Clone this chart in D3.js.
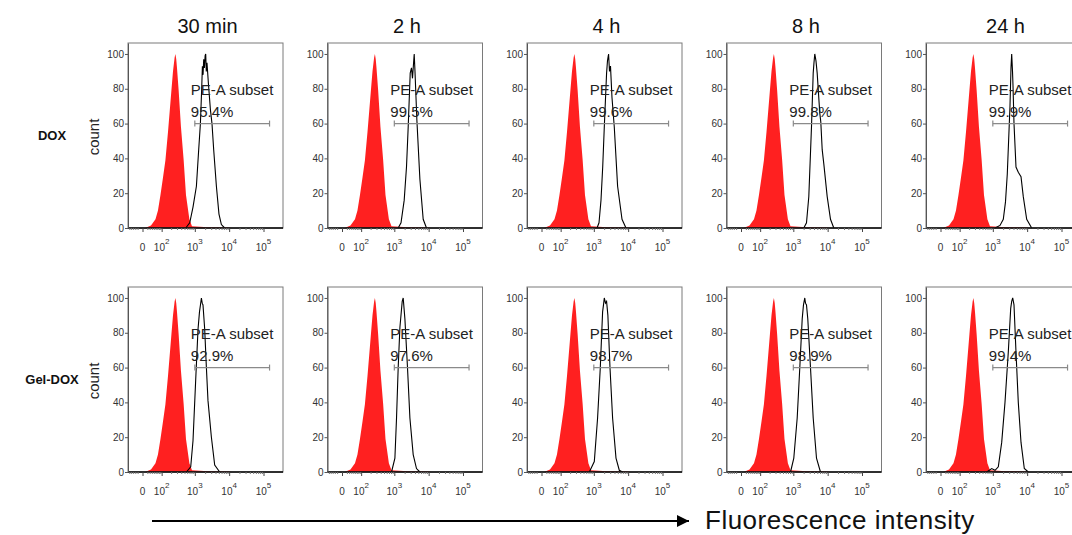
<!DOCTYPE html>
<html>
<head>
<meta charset="utf-8">
<script src="https://cdn.jsdelivr.net/npm/d3@7"></script>
<style>
  body { margin: 0; background: #fff; }
  svg { display: block; font-family: "Liberation Sans", Arial, sans-serif; }
</style>
</head>
<body>
<svg id="chart" width="1072" height="535"></svg>
<script>
// ---------------------------------------------- data ----------------------------------------------

const timepoints = ["30 min", "2 h", "4 h", "8 h", "24 h"];
const groups = ["DOX", "Gel-DOX"];
const subsetPct = [
    [95.4, 99.5, 99.6, 99.8, 99.9],
    [92.9, 97.6, 98.7, 98.9, 99.4]
];
const gateRange = [1000, 150000];   // PE-A subset gate
const gateLevel = 60;
const xTicks = [0, 100, 1000, 10000, 100000];
const xTickExp = [null, 2, 3, 4, 5];
const yTicks = [0, 20, 40, 60, 80, 100];

// untreated control (red, filled) - [intensity, % of max]
const control = [[10,0],[18,0.5],[36,1.5],[59,5],[74,10],[91,19],[111,29],[133,39],[160,55],[204,79],[228,90],
    [255,98],[269,100],[285,97],[300,92],[336,79],[393,58],[472,39],[552,19],[694,5],[827,1],[2400,0.5],[9200,0.3],[12000,0]];

// DOX
const dox30min = [[543,0],[710,3],[885,12],[1112,24],[1297,45],[1455,60],[1586,80],[1663,93],[1740,88],[1815,97],
    [1900,92],[2000,99],[2075,100],[2160,90],[2263,95],[2488,83],[2845,68],[3163,60],[3546,45],[4250,24],[5055,8],[5940,2],[7410,0]];
const dox2h = [[1297,0],[1566,3],[1941,16],[2263,35],[2537,58],[2903,89],[3163,92],[3385,86],[3795,100],[4000,90],
    [4540,62],[5560,28],[6935,5],[8650,0]];
const dox4h = [[1240,0],[1416,3],[1619,16],[1815,35],[2020,58],[2355,89],[2500,96],[2690,100],[2862,90],[3060,93],
    [3382,75],[3945,58],[4930,24],[6625,5],[8650,0]];
const dox8h = [[2020,0],[2420,3],[2825,18],[3382,58],[3795,89],[4000,95],[4220,100],[4572,96],[4955,89],[5900,66],
    [6310,61],[6935,45],[7715,37],[9700,18],[12100,5],[15100,0]];
const dox24h = [[1160,0],[1619,1.5],[2020,5],[2340,15],[2640,31],[3163,70],[3385,92],[3546,100],[3745,90],[3870,82],
    [4140,60],[4732,35],[5520,32],[6625,29.5],[7715,18],[9700,5],[13550,0]];

// Gel-DOX
const gel30min = [[569,0],[759,3],[885,18],[1061,53],[1240,82],[1368,92],[1556,100],[1642,97],[1731,96],[1941,82],
    [2173,60],[2420,41],[3040,20],[3795,4],[5300,0]];
const gel2h = [[829,0],[1040,8],[1160,31],[1297,60],[1455,83],[1698,98],[1815,100],[2034,88],[2420,60],[2845,31],
    [3546,10],[4425,2],[5560,0]];
const gel4h = [[740,0],[1033,6],[1288,31],[1545,60],[1803,92],[1914,96],[2020,100],[2188,97],[2355,98],[2570,90],
    [2958,60],[3524,31],[4425,8],[5520,1],[6890,0]];
const gel8h = [[829,0],[1033,8],[1297,31],[1545,60],[1815,88],[1977,96],[2158,100],[2263,97],[2420,96],[2640,88],
    [3163,60],[3795,31],[4732,8],[6185,0]];
const gel24h = [[664,0],[929,2],[1160,1],[1445,3],[1815,17],[2263,40],[2825,69],[3319,94],[3546,98],[3795,100],
    [4140,96],[4732,69],[5520,40],[6625,17],[8260,2],[10800,0]];

const treated = [
    [dox30min, dox2h, dox4h, dox8h, dox24h],
    [gel30min, gel2h, gel4h, gel8h, gel24h]
];

// ---------------------------------------------- layout ----------------------------------------------

const panelW = 155;
const panelH = 185;
const colStep = 199.5;
const rowStep = 244;
const left0 = 128;
const top0 = 43;

const svg = d3.select("#chart");

// biexponential-like display: asinh transform + linear scale
const W = 60;
const tr = v => Math.asinh(v / W);
const xT = d3.scaleLinear().domain([tr(0), tr(100000)]).range([14.5, 135.5]);
const x = v => xT(tr(v));
const y = d3.scaleLinear().domain([0, 106.3]).range([panelH, 0]);

// minor ticks on the log axis
const minorTicks = [];
[-1, 1].forEach(s => d3.range(1, 5).forEach(k => d3.range(2, 10).forEach(m => {
    const v = s * m * Math.pow(10, k);
    if (x(v) > 1 && x(v) < panelW - 1) minorTicks.push(v);
})));

const area = d3.area().x(d => x(d[0])).y0(y(0)).y1(d => y(d[1]));
const line = d3.line().x(d => x(d[0])).y(d => y(d[1]));

// ---------------------------------------------- panels ----------------------------------------------

groups.forEach((grp, r) => {
    timepoints.forEach((tp, c) => {
        const g = svg.append("g")
            .attr("transform", `translate(${left0 + c * colStep},${top0 + r * rowStep})`);

        // control histogram
        g.append("path").datum(control)
            .attr("d", area)
            .attr("fill", "#ff2020");

        // treated histogram
        g.append("path").datum(treated[r][c])
            .attr("d", line)
            .attr("fill", "none")
            .attr("stroke", "#000")
            .attr("stroke-width", 1.1);

        // frame
        g.append("rect")
            .attr("width", panelW).attr("height", panelH)
            .attr("fill", "none").attr("stroke", "#7a7a7a").attr("stroke-width", 1);

        g.append("line")
            .attr("x1", 0).attr("x2", panelW)
            .attr("y1", y(0)).attr("y2", y(0))
            .attr("stroke", "#000").attr("stroke-width", 1.6);

        // y axis
        const yAx = g.append("g")
            .call(d3.axisLeft(y).tickValues(yTicks).tickSize(3).tickPadding(1).tickSizeOuter(0));
        yAx.select(".domain").attr("stroke", "#555");
        yAx.selectAll("text").attr("font-size", 10).attr("fill", "#333").attr("font-family", null);
        yAx.selectAll(".tick line").attr("stroke", "#555");

        // x axis: major + minor ticks
        const xAx = g.append("g").attr("transform", `translate(0,${y(0)})`)
            .call(d3.axisBottom(xT).tickValues(xTicks.map(tr)).tickSize(4).tickFormat("").tickSizeOuter(0));
        xAx.select(".domain").remove();
        xAx.selectAll(".tick line").attr("stroke", "#444");

        const xMin = g.append("g").attr("transform", `translate(0,${y(0)})`)
            .call(d3.axisBottom(xT).tickValues(minorTicks.map(tr)).tickSize(2).tickFormat("").tickSizeOuter(0));
        xMin.select(".domain").remove();
        xMin.selectAll(".tick line").attr("stroke", "#777");

        // x tick labels with superscripts
        xTicks.forEach((v, i) => {
            const t = g.append("text")
                .attr("x", x(v)).attr("y", y(0) + 23)
                .attr("text-anchor", "middle")
                .attr("font-size", 10).attr("fill", "#333");
            if (xTickExp[i] === null) {
                t.text("0");
            } else {
                t.append("tspan").text("10");
                t.append("tspan").attr("dy", -7).attr("font-size", 8).text(xTickExp[i]);
            }
        });

        // gate
        const gy = y(gateLevel);
        const gx0 = x(gateRange[0]), gx1 = x(gateRange[1]);
        g.append("line").attr("x1", gx0).attr("x2", gx1).attr("y1", gy).attr("y2", gy)
            .attr("stroke", "#8a8a8a").attr("stroke-width", 1.2);
        [gx0, gx1].forEach(gx => g.append("line")
            .attr("x1", gx).attr("x2", gx).attr("y1", gy - 3).attr("y2", gy + 3)
            .attr("stroke", "#8a8a8a").attr("stroke-width", 1.2));

        g.append("text")
            .attr("x", gx0 - 4).attr("y", gy - 29)
            .attr("font-size", 15).attr("fill", "#222")
            .text("PE-A subset");
        g.append("text")
            .attr("x", gx0 - 4).attr("y", gy - 7)
            .attr("font-size", 15).attr("fill", "#222")
            .text(subsetPct[r][c].toFixed(1) + "%");

        // column titles
        if (r === 0) {
            svg.append("text")
                .attr("x", left0 + c * colStep + panelW / 2 + 2)
                .attr("y", 33)
                .attr("text-anchor", "middle")
                .attr("font-size", 20).attr("fill", "#111")
                .text(tp);
        }
    });

    // row label + count
    const midY = top0 + r * rowStep + 97;
    svg.append("text")
        .attr("x", 52).attr("y", midY)
        .attr("text-anchor", "middle")
        .attr("font-size", 13).attr("font-weight", "bold").attr("fill", "#111")
        .text(grp);

    svg.append("text")
        .attr("transform", `translate(99,${midY - 3}) rotate(-90)`)
        .attr("text-anchor", "middle")
        .attr("font-size", 15).attr("fill", "#222")
        .text("count");
});

// ---------------------------------------------- bottom arrow ----------------------------------------------

svg.append("defs").append("marker")
    .attr("id", "arrow")
    .attr("viewBox", "0 0 10 10")
    .attr("refX", 10).attr("refY", 5)
    .attr("markerWidth", 9).attr("markerHeight", 6)
    .attr("markerUnits", "strokeWidth")
    .attr("orient", "auto")
    .append("path").attr("d", "M0,0L10,5L0,10z").attr("fill", "#000");

svg.append("line")
    .attr("x1", 152).attr("x2", 689)
    .attr("y1", 521).attr("y2", 521)
    .attr("stroke", "#000").attr("stroke-width", 2)
    .attr("marker-end", "url(#arrow)");

svg.append("text")
    .attr("x", 705).attr("y", 529)
    .attr("font-size", 26).attr("letter-spacing", 0.5).attr("fill", "#111")
    .text("Fluorescence intensity");
</script>
</body>
</html>
